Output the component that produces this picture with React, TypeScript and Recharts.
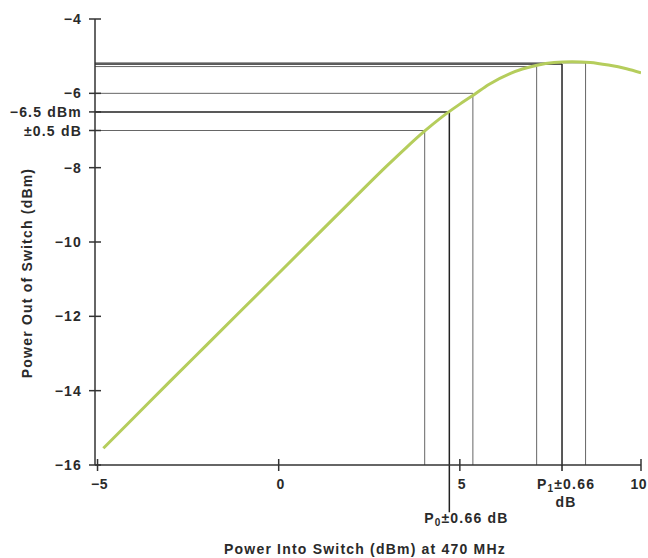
import React from "react";
import { LineChart, Line, XAxis, YAxis, ReferenceLine } from "recharts";

// Transfer curve: power into switch (dBm) vs power out of switch (dBm)
const curveX = [-4.84, -4, -3, -2, -1, 0, 1, 2, 3, 3.5, 4, 4.5, 5, 5.4, 5.8, 6.4, 7.1, 7.6, 8.1, 8.6, 9.1, 9.6, 10];
const curveY = [-15.55, -14.73, -13.75, -12.78, -11.81, -10.84, -9.87, -8.9, -7.94, -7.48, -7.04, -6.64, -6.29, -6.03, -5.76, -5.46, -5.25, -5.17, -5.15, -5.17, -5.24, -5.34, -5.45];

// Guide lines: vertical at guideX from axis up to guideY, horizontal from y axis to guideX
const guideX = [4.03, 4.71, 5.36, 7.12, 7.82, 8.47];
const guideY = [-7.0, -6.5, -6.0, -5.28, -5.21, -5.18];
const strongGuides = [1, 4];
const p0Bottom = -17.27;

const xTicks = [-5, 0, 5, 10];
const yTicks = [-16, -14, -12, -10, -8, -7, -6.5, -6, -4];
const yTickLabels: Record<string, string> = { "-7": "±0.5 dB", "-6.5": "−6.5 dBm" };

const X_MIN = -5.07;
const X_MAX = 10;
const Y_MIN = -16;
const Y_MAX = -4;

const data = curveX.map((x, i) => ({ x, y: curveY[i] }));

const FONT = "'Liberation Sans', Arial, Helvetica, sans-serif";
const TXT = { fontFamily: FONT, fontWeight: 700, fontSize: 14, letterSpacing: 1.2, fill: "#2a2a2a" } as const;
const AXIS = "#333";

const fmtNum = (v: number) => (v < 0 ? "−" + Math.abs(v) : String(v));

const YTick = (props: any) => {
  const { x, y, payload } = props;
  const v = payload.value;
  const label = yTickLabels[String(v)] ?? fmtNum(v);
  return (
    <g>
      <line x1={x - 6} x2={x + 6} y1={y} y2={y} stroke={AXIS} strokeWidth={1.5} />
      <text x={x - 13} y={y} dy="0.36em" textAnchor="end" {...TXT}>
        {label}
      </text>
    </g>
  );
};

const XTick = (props: any) => {
  const { x, y, payload } = props;
  const v = payload.value;
  if (v === guideX[1]) {
    return (
      <text x={x + 17} y={y + 58} textAnchor="middle" {...TXT}>
        P<tspan fontSize={10} dy={3}>0</tspan>
        <tspan dy={-3}>±0.66 dB</tspan>
      </text>
    );
  }
  if (v === guideX[4]) {
    return (
      <g>
        <line x1={x} x2={x} y1={y} y2={y + 6} stroke="#222" strokeWidth={1.5} />
        <text x={x + 4} y={y + 24} textAnchor="middle" {...TXT}>
          P<tspan fontSize={10} dy={3}>1</tspan>
          <tspan dy={-3}>±0.66</tspan>
        </text>
        <text x={x + 4} y={y + 42} textAnchor="middle" {...TXT}>
          dB
        </text>
      </g>
    );
  }
  const isLast = v === X_MAX;
  return (
    <g>
      <line x1={x} x2={x} y1={y - 6} y2={y + 6} stroke={AXIS} strokeWidth={1.5} />
      <text x={isLast ? x + 6 : x + 2} y={y + 24} textAnchor={isLast ? "end" : "middle"} {...TXT} letterSpacing={0.5}>
        {fmtNum(v)}
      </text>
    </g>
  );
};

export default function App() {
  return (
    <div style={{ position: "absolute", left: 0, top: 0, width: 648, height: 558, background: "#fff" }}>
      <LineChart width={648} height={558} data={data} margin={{ top: 19, right: 7, bottom: 0, left: 0 }}>
        <XAxis
          dataKey="x"
          type="number"
          domain={[X_MIN, X_MAX]}
          allowDataOverflow
          ticks={[...xTicks, guideX[1], guideX[4]]}
          interval={0}
          height={93}
          tickSize={0}
          tickMargin={0}
          tickLine={false}
          axisLine={{ stroke: AXIS, strokeWidth: 1.5 }}
          tick={(p: any) => <XTick {...p} />}
          label={() => (
            <text x={365} y={554} textAnchor="middle" {...TXT}>
              Power Into Switch (dBm) at 470 MHz
            </text>
          )}
        />
        <YAxis
          type="number"
          domain={[Y_MIN, Y_MAX]}
          allowDataOverflow
          ticks={yTicks}
          interval={0}
          width={95}
          tickSize={0}
          tickMargin={0}
          tickLine={false}
          axisLine={{ stroke: AXIS, strokeWidth: 1.5 }}
          tick={(p: any) => <YTick {...p} />}
          label={() => (
            <text x={32} y={273} textAnchor="middle" transform="rotate(-90 32 273)" {...TXT}>
              Power Out of Switch (dBm)
            </text>
          )}
        />
        {guideX.map((gx, i) => {
          const strong = strongGuides.includes(i);
          return (
            <ReferenceLine
              key={"h" + i}
              segment={[
                { x: X_MIN, y: guideY[i] },
                { x: gx, y: guideY[i] },
              ]}
              stroke={strong ? "#222" : "#666"}
              strokeWidth={strong ? 1.5 : 1}
              ifOverflow="visible"
            />
          );
        })}
        {guideX.map((gx, i) => {
          const strong = strongGuides.includes(i);
          return (
            <ReferenceLine
              key={"v" + i}
              segment={[
                { x: gx, y: i === 1 ? p0Bottom : Y_MIN },
                { x: gx, y: guideY[i] },
              ]}
              stroke={strong ? "#222" : "#666"}
              strokeWidth={strong ? 1.5 : 1}
              ifOverflow="visible"
            />
          );
        })}
        <Line
          dataKey="y"
          type="monotone"
          stroke="#b5cd5c"
          strokeWidth={3}
          dot={false}
          activeDot={false}
          isAnimationActive={false}
        />
      </LineChart>
    </div>
  );
}
